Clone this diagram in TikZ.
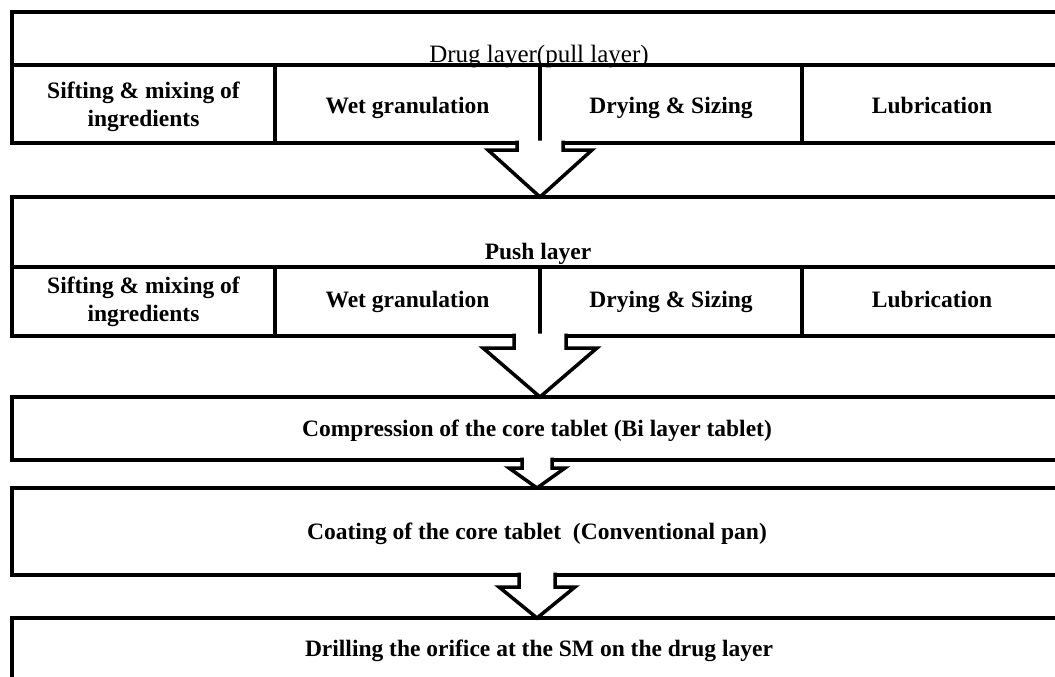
\documentclass[tikz,border=0pt]{standalone}
\usepackage{fontspec}
\setmainfont{Liberation Serif}
\usetikzlibrary{calc}
\begin{document}
\begin{tikzpicture}[x=1pt,y=-1pt,
  frame/.style={draw, line width=4pt, anchor=north west, inner sep=0pt, outer sep=0pt,
    minimum width=1050pt, align=center, font=\bfseries\fontsize{23.5}{28}\selectfont},
  cell/.style={draw, line width=3.5pt, anchor=north west, inner sep=0pt, outer sep=0pt,
    align=center, font=\bfseries\fontsize{23.5}{28}\selectfont},
  oneline/.style={text height=#1, text depth=5pt},
  oneline/.default=16pt,
  title/.style={anchor=base, inner sep=0pt},
  arrowline/.style={draw, fill=white, line width=3.5pt, miter limit=10}]
\useasboundingbox (0,0) rectangle (1055,677);
\clip (0,0) rectangle (1055,677);
\newcommand\blockarr[5]{%
  \path[arrowline] let \p1=(#1), \p2=(#2) in
  (\x1-#3pt,\y1+2.5pt) -- (\x1-#3pt,\y1-#5pt) -- (\x1-#4pt,\y1-#5pt) -- (\x1,\y2)
  -- (\x1+#4pt,\y1-#5pt) -- (\x1+#3pt,\y1-#5pt) -- (\x1+#3pt,\y1+2.5pt);}
% Box 1: drug layer
\node[title, font=\fontsize{25}{28}\selectfont] (t1) at (539,63) {Drug layer(pull layer)};
\node[frame, minimum height=131pt] (f1) at (12,12) {};
\node[cell, minimum width=263pt, minimum height=78pt] (c11) at (12,65) {\rule{0pt}{22pt}Sifting \& mixing of\\ingredients};
\node[cell, oneline=23pt, minimum width=265pt, minimum height=78pt] (c12) at (275,65) {Wet granulation};
\node[cell, oneline=23pt, minimum width=262pt, minimum height=78pt] (c13) at (540,65) {Drying \& Sizing};
\node[cell, oneline=23pt, minimum width=260pt, minimum height=78pt] (c14) at (802,65) {Lubrication};
% Box 2: push layer
\node[title, font=\bfseries\fontsize{23.5}{28}\selectfont] (t2) at (538,259) {Push layer};
\node[frame, minimum height=139pt] (f2) at (12,197) {};
\node[cell, minimum width=263pt, minimum height=69pt] (c21) at (12,267) {Sifting \& mixing of\\ingredients};
\node[cell, oneline, minimum width=265pt, minimum height=69pt] (c22) at (275,267) {Wet granulation};
\node[cell, oneline, minimum width=262pt, minimum height=69pt] (c23) at (540,267) {Drying \& Sizing};
\node[cell, oneline, minimum width=260pt, minimum height=69pt] (c24) at (802,267) {Lubrication};
% Boxes 3-5
\node[frame, oneline=21pt, minimum height=63pt] (f3) at (12,397) {Compression of the core tablet (Bi layer tablet)};
\node[frame, oneline=21pt, minimum height=87pt] (f4) at (12,488) {Coating of the core tablet\ \ (Conventional pan)};
\node[frame, minimum height=80pt, anchor=north west] (f5) at (12,618) {};
\node[font=\bfseries\fontsize{23.5}{28}\selectfont, oneline=21pt, inner sep=0pt] (t5) at (539,648) {Drilling the orifice at the SM on the drug layer};
% block arrows
\blockarr{c12.south east}{f2.north}{23}{52}{7}
\blockarr{c22.south east}{f3.north}{26}{57}{12}
\blockarr{f3.south}{f4.north}{15}{28}{8}
\blockarr{f4.south}{f5.north}{18}{38}{12}
\end{tikzpicture}
\end{document}
